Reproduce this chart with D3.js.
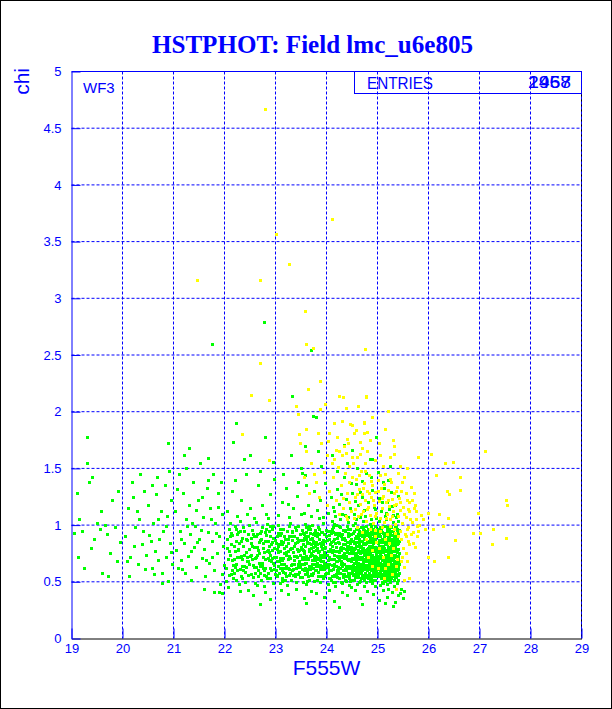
<!DOCTYPE html>
<html>
<head>
<meta charset="utf-8">
<script src="https://d3js.org/d3.v7.min.js"></script>
<style>
  body { margin:0; background:white; }
  svg { display:block; }
  .axis text { font-family: 'Liberation Sans', Arial, sans-serif; font-size: 13px; fill: #0000ff; }
  .lbl { font-family: 'Liberation Sans', Arial, sans-serif; fill: #0000ff; }
</style>
</head>
<body>
<script>
// F555W, chi pairs (flat: x, y, x, y ...)
const greenPts = [
  // x 19-22, sparse
  19.1,1.28, 19.15,1.05, 19.2,.95, 19.25,.62, 19.3,1.78, 19.3,1.55, 19.35,1.38, 19.4,1.42, 19.45,.88, 19.5,1.02,
  19.55,.97, 19.6,.58, 19.65,1.0, 19.7,.92, 19.75,.75, 19.8,1.22, 19.85,.98, 19.9,.68, 19.92,1.3, 19.95,.85,
  19.05,.93, 19.12,.72, 19.38,.8, 19.58,1.12, 19.72,.55,
  20.05,.9, 20.1,1.15, 20.15,.72, 20.2,1.25, 20.25,.98, 20.3,.66, 20.33,1.05, 20.38,.83, 20.42,1.3, 20.45,.61,
  20.5,1.18, 20.52,.91, 20.58,.62, 20.6,1.02, 20.63,.77, 20.68,1.42, 20.7,.69, 20.72,.88, 20.75,1.12, 20.78,.58,
  20.8,.95, 20.83,1.35, 20.86,.72, 20.88,1.08, 20.9,.51, 20.93,.84, 20.96,1.22, 20.98,.66, 20.12,.55, 20.22,.82,
  20.35,1.45, 20.47,.74, 20.55,.86, 20.65,1.27, 20.77,.49, 20.85,.99, 20.92,1.48, 20.28,1.12, 20.4,.95, 20.62,.57,
  20.18,1.38, 20.7,1.05, 20.95,.76, 20.08,.68, 20.58,1.35,
  21.02,1.12, 21.05,.78, 21.08,.62, 21.1,1.45, 21.12,.95, 21.15,.69, 21.18,1.28, 21.2,.84, 21.22,.58, 21.25,1.05,
  21.28,.73, 21.3,1.18, 21.32,.92, 21.35,.52, 21.38,1.38, 21.4,.81, 21.42,.99, 21.45,.63, 21.48,1.22, 21.5,.88,
  21.52,1.55, 21.55,.71, 21.58,1.07, 21.6,.79, 21.62,.55, 21.65,1.33, 21.67,.94, 21.7,.67, 21.72,1.15, 21.75,.86,
  21.77,1.45, 21.8,.6, 21.82,1.02, 21.85,.75, 21.87,1.28, 21.9,.9, 21.92,.48, 21.95,1.1, 21.97,.82, 21.99,.65,
  21.06,1.32, 21.14,.88, 21.24,1.5, 21.34,.77, 21.44,1.13, 21.54,.96, 21.64,.69, 21.74,1.05, 21.84,.93, 21.94,1.38,
  21.16,.61, 21.36,1.02, 21.56,1.25, 21.76,.72, 21.96,.57, 21.27,.99, 21.47,.85, 21.68,1.4, 21.88,1.16, 21.79,.41,
  21.59,.44, 21.2,1.62, 21.95,.4, 21.9,.41,
  // x 22-23
  22.02,.62, 22.05,.88, 22.03,.51, 22.08,.97, 22.1,.74, 22.07,.45, 22.12,.83, 22.15,.69, 22.11,1.02, 22.18,.58,
  22.14,.91, 22.2,.77, 22.17,.53, 22.23,.66, 22.21,.99, 22.25,.72, 22.22,.86, 22.28,.48, 22.26,.94, 22.3,.61,
  22.27,.79, 22.33,.55, 22.31,1.04, 22.35,.7, 22.34,.89, 22.38,.64, 22.36,.82, 22.4,.5, 22.39,.95, 22.42,.76,
  22.41,.59, 22.45,.87, 22.44,.68, 22.47,.43, 22.46,.92, 22.5,.73, 22.49,1.0, 22.52,.57, 22.51,.84, 22.55,.65,
  22.53,.96, 22.57,.81, 22.56,.54, 22.6,.71, 22.58,.9, 22.62,.63, 22.61,1.03, 22.65,.78, 22.63,.47, 22.67,.85,
  22.66,.6, 22.7,.93, 22.68,.75, 22.72,.52, 22.71,.88, 22.74,.67, 22.73,.98, 22.77,.56, 22.76,.8, 22.79,.7,
  22.78,.46, 22.82,.91, 22.8,.62, 22.84,.77, 22.83,1.01, 22.86,.58, 22.85,.86, 22.88,.69, 22.87,.95, 22.9,.53,
  22.89,.74, 22.92,.83, 22.91,.6, 22.94,.97, 22.93,.71, 22.96,.49, 22.95,.89, 22.98,.65, 22.97,.8, 22.99,.57,
  22.04,.8, 22.09,.56, 22.13,.93, 22.19,.7, 22.24,.6, 22.29,.84, 22.32,.73, 22.37,.98, 22.43,.63, 22.48,.79,
  22.54,.7, 22.59,.49, 22.64,.92, 22.69,.64, 22.75,.84, 22.81,.55, 22.86,.78, 22.9,.99, 22.95,.67, 22.99,.87,
  22.16,.65, 22.34,.53, 22.52,.89, 22.7,.58, 22.88,.82, 22.22,.97, 22.46,.68, 22.64,.74, 22.8,.94, 22.97,.61,
  22.06,.7, 22.1,.9, 22.14,.6, 22.18,.82, 22.22,.52, 22.26,.78, 22.3,.95, 22.34,.64, 22.38,.74, 22.42,.88,
  22.46,.56, 22.08,.77, 22.2,.63, 22.32,.86, 22.44,.72, 22.12,.57, 22.24,.92, 22.36,.6, 22.48,.66, 22.28,.72,
  // x 23-24
  23.01,.72, 23.03,.55, 23.02,.9, 23.05,.64, 23.06,.83, 23.04,1.0, 23.08,.49, 23.09,.77, 23.07,.68, 23.11,.93,
  23.12,.6, 23.1,.86, 23.14,.71, 23.13,.53, 23.15,.97, 23.17,.66, 23.16,.8, 23.19,.58, 23.18,.88, 23.2,.74,
  23.22,.95, 23.21,.62, 23.24,.84, 23.23,.47, 23.25,.7, 23.27,.9, 23.26,.56, 23.29,.79, 23.28,1.02, 23.3,.65,
  23.32,.87, 23.31,.52, 23.34,.76, 23.33,.94, 23.35,.61, 23.37,.82, 23.36,.69, 23.39,.98, 23.38,.57, 23.4,.73,
  23.42,.89, 23.41,.5, 23.44,.66, 23.43,.85, 23.45,.99, 23.47,.59, 23.46,.78, 23.49,.92, 23.48,.63, 23.5,.81,
  23.52,.54, 23.51,.96, 23.54,.72, 23.53,.87, 23.55,.6, 23.57,1.01, 23.56,.75, 23.59,.48, 23.58,.9, 23.6,.67,
  23.62,.84, 23.61,.58, 23.64,.97, 23.63,.71, 23.65,.52, 23.67,.88, 23.66,.64, 23.69,.8, 23.68,.93, 23.7,.56,
  23.72,.74, 23.71,1.0, 23.74,.62, 23.73,.86, 23.75,.69, 23.77,.95, 23.76,.51, 23.79,.78, 23.78,.91, 23.8,.6,
  23.82,.83, 23.81,.7, 23.84,.98, 23.83,.55, 23.85,.88, 23.87,.65, 23.86,.77, 23.89,.94, 23.88,.5, 23.9,.72,
  23.92,.85, 23.91,.61, 23.94,1.02, 23.93,.68, 23.95,.8, 23.97,.57, 23.96,.92, 23.99,.74, 23.98,.63, 23.0,.84,
  23.03,.79, 23.06,.58, 23.09,.97, 23.12,.69, 23.15,.85, 23.18,.52, 23.21,.76, 23.24,.62, 23.27,.99, 23.3,.8,
  23.33,.66, 23.36,.9, 23.39,.55, 23.42,.72, 23.45,.63, 23.48,.87, 23.51,.7, 23.54,.5, 23.57,.82, 23.6,.94,
  23.63,.61, 23.66,.77, 23.69,.57, 23.72,.89, 23.75,.66, 23.78,.73, 23.81,.93, 23.84,.59, 23.87,.84, 23.9,.68,
  23.93,.53, 23.96,.76, 23.99,.9, 23.02,.68, 23.08,.91, 23.14,.59, 23.2,.82, 23.26,.73, 23.32,.6, 23.38,.84,
  23.44,.77, 23.5,.66, 23.56,.89, 23.62,.7, 23.68,.62, 23.74,.81, 23.8,.72, 23.86,.97, 23.92,.64, 23.98,.81,
  23.51,.61, 23.53,.78, 23.55,.92, 23.58,.67, 23.61,.85, 23.64,.55, 23.67,.73, 23.7,.88, 23.73,.58, 23.76,.84,
  23.79,.64, 23.82,.9, 23.85,.71, 23.88,.61, 23.91,.79, 23.94,.87, 23.97,.66, 23.52,.71, 23.59,.98, 23.65,.79,
  23.71,.66, 23.77,.6, 23.83,.76, 23.89,.82, 23.95,.55, 23.99,.96, 23.57,.57, 23.63,.9, 23.69,.75, 23.75,.93,
  23.81,.52, 23.87,.74, 23.93,.87, 23.96,.61, 23.54,.83, 23.6,.73, 23.66,.99, 23.72,.69, 23.78,.82, 23.84,.65,
  22.52,.74, 22.56,.92, 22.6,.58, 22.64,.81, 22.68,.67, 22.72,.95, 22.76,.62, 22.8,.86, 22.84,.53, 22.88,.76,
  22.92,.68, 22.96,.99, 23.0,.6, 23.04,.82, 23.08,.71, 23.12,.51, 23.16,.9, 23.2,.64, 23.24,.77, 23.28,.58,
  23.32,.95, 23.36,.73, 23.4,.62, 23.44,.86, 23.48,.54, 23.52,.79, 23.56,.66, 23.6,.88, 23.64,.7, 23.68,.97,
  23.72,.56, 23.76,.72, 23.8,.85, 23.84,.77, 23.88,.69, 23.92,.94, 23.96,.67, 23.99,.58, 23.97,.86, 23.93,.74,
  23.89,.55, 23.85,.64, 23.81,.8, 23.77,.69, 23.73,.92, 23.69,.64, 23.65,.84, 23.61,.51, 23.57,.7, 23.53,.93,
  23.49,.74, 23.45,.57, 23.41,.96, 23.37,.66, 23.33,.8, 23.29,.71, 23.25,.88, 23.21,.55, 23.17,.75, 23.13,.83,
  23.09,.62, 23.05,.93, 23.01,.56, 22.97,.72, 22.93,.85, 22.89,.62, 22.85,.71, 22.81,.97, 22.77,.76, 22.73,.64,
  22.69,.87, 22.65,.55, 22.61,.72, 22.57,.63, 22.53,.82, 22.62,.9, 22.78,.6, 22.94,.78, 23.1,.66, 23.26,.61,
  23.42,.79, 23.58,.62, 23.74,.77, 23.9,.63, 23.55,.77, 23.7,.83, 23.85,.92, 23.95,.72, 23.62,.6, 23.78,.96,
  23.3,.9, 23.15,.62, 23.47,.68, 23.82,.67, 23.67,.61, 23.94,.83, 23.35,.56, 23.05,.76, 22.9,.9, 22.75,.72,
  // x 24-25.4, dense core
  24.01,.74, 24.02,.58, 24.04,.91, 24.05,.66, 24.07,.83, 24.08,.52, 24.1,.97, 24.11,.7, 24.13,.61, 24.14,.88,
  24.16,.77, 24.17,.55, 24.19,1.0, 24.2,.68, 24.22,.85, 24.23,.6, 24.25,.93, 24.26,.73, 24.28,.5, 24.29,.81,
  24.31,.64, 24.32,.96, 24.34,.71, 24.35,.57, 24.37,.87, 24.38,.79, 24.4,.62, 24.41,.99, 24.43,.69, 24.44,.53,
  24.46,.84, 24.47,.75, 24.49,.92, 24.5,.59, 24.52,.8, 24.53,.67, 24.55,1.02, 24.56,.72, 24.58,.56, 24.59,.89,
  24.61,.63, 24.62,.78, 24.64,.95, 24.65,.51, 24.67,.7, 24.68,.86, 24.7,.6, 24.71,.98, 24.73,.74, 24.74,.65,
  24.76,.83, 24.77,.54, 24.79,.91, 24.8,.68, 24.82,.77, 24.83,.58, 24.85,1.01, 24.86,.72, 24.88,.63, 24.89,.87,
  24.91,.52, 24.92,.8, 24.94,.94, 24.95,.66, 24.97,.76, 24.98,.57, 25.0,.9, 25.01,.69, 25.03,.82, 25.04,.61,
  25.06,.97, 25.07,.73, 25.09,.55, 25.1,.85, 25.12,.64, 25.13,.79, 25.15,.99, 25.16,.59, 25.18,.71, 25.19,.88,
  25.21,.53, 25.22,.76, 25.24,.93, 25.25,.67, 25.27,.82, 25.28,.6, 25.3,1.03, 25.31,.7, 25.33,.56, 25.34,.86,
  25.36,.65, 25.37,.78, 25.39,.95, 25.4,.62, 25.38,.5, 25.35,.74, 25.32,.9, 25.29,.55, 25.26,.8, 25.23,.69,
  24.0,.87, 24.03,.69, 24.06,.79, 24.09,.6, 24.12,.94, 24.15,.64, 24.18,.81, 24.21,.54, 24.24,.76, 24.27,.98,
  24.3,.67, 24.33,.83, 24.36,.52, 24.39,.73, 24.42,.9, 24.45,.62, 24.48,.78, 24.51,1.0, 24.54,.57, 24.57,.85,
  24.6,.71, 24.63,.6, 24.66,.92, 24.69,.76, 24.72,.55, 24.75,.88, 24.78,.64, 24.81,.97, 24.84,.7, 24.87,.53,
  24.9,.82, 24.93,.61, 24.96,.89, 24.99,.73, 25.02,.58, 25.05,.78, 25.08,.94, 25.11,.66, 25.14,.51, 25.17,.83,
  25.2,.63, 25.23,.96, 25.26,.72, 25.29,.86, 25.32,.6, 25.35,.81, 25.38,.68, 25.41,.92, 25.39,.57, 25.36,.99,
  24.02,.63, 24.07,.95, 24.13,.78, 24.19,.57, 24.25,.84, 24.31,.72, 24.37,.61, 24.43,.93, 24.49,.68, 24.55,.8,
  24.61,.54, 24.67,.98, 24.73,.61, 24.79,.75, 24.85,.88, 24.91,.66, 24.97,.59, 25.03,.95, 25.09,.7, 25.15,.84,
  25.21,.62, 25.27,.74, 25.33,.97, 25.4,.79, 25.24,.52, 25.12,.9, 25.0,.77, 24.88,.99, 24.76,.7, 24.64,.83,
  24.52,.64, 24.4,.85, 24.28,.66, 24.16,.92, 24.04,.53, 24.1,.82, 24.22,.72, 24.34,.89, 24.46,.58, 24.58,.75,
  24.7,.66, 24.82,.92, 24.94,.55, 25.06,.65, 25.18,.96, 25.3,.77, 25.42,.58, 25.37,.86, 25.25,.59, 25.13,.72,
  24.5,.71, 24.52,.93, 24.54,.62, 24.56,.84, 24.58,.68, 24.6,.97, 24.62,.56, 24.64,.76, 24.66,.63, 24.68,.91,
  24.7,.79, 24.72,.67, 24.74,.88, 24.76,.58, 24.78,.99, 24.8,.73, 24.82,.61, 24.84,.82, 24.86,.66, 24.88,.77,
  24.9,.94, 24.92,.59, 24.94,.71, 24.96,.86, 24.98,.64, 25.0,.55, 25.02,.87, 25.04,.75, 25.06,.6, 25.08,.81,
  25.1,.69, 25.12,.99, 25.14,.63, 25.16,.78, 25.18,.56, 25.2,.9, 25.22,.67, 25.24,.81, 25.26,.98, 25.28,.71,
  25.3,.62, 25.32,.83, 25.34,.54, 25.36,.72, 25.38,.88, 25.4,.68, 25.41,.52, 25.42,.96, 25.39,.76, 25.37,.61,
  24.51,.86, 24.55,.54, 24.59,.73, 24.63,.88, 24.67,.6, 24.71,.84, 24.75,.95, 24.79,.62, 24.83,.9, 24.87,.6,
  24.91,.77, 24.95,.99, 24.99,.63, 25.03,.72, 25.07,.86, 25.11,.57, 25.15,.74, 25.19,.64, 25.23,.86, 25.27,.53,
  25.31,.88, 25.35,.64, 25.34,.77, 25.3,.95, 25.26,.65, 25.22,.58, 25.18,.83, 25.14,.93, 25.1,.76, 25.06,.53,
  25.02,.67, 24.98,.8, 24.94,.64, 24.9,.56, 24.86,.93, 24.82,.69, 24.78,.84, 24.74,.52, 24.7,.9, 24.66,.75,
  24.62,.67, 24.58,.97, 24.54,.79, 24.5,.6, 24.53,.7, 24.57,.63, 24.61,.89, 24.65,.72, 24.69,.55, 24.73,.96,
  24.77,.65, 24.81,.8, 24.85,.67, 24.89,.72, 24.93,.87, 24.97,.7, 25.01,.61, 25.05,.9, 25.09,.79, 25.13,.6,
  25.17,.7, 25.21,.94, 25.25,.77, 25.29,.66, 25.33,.73, 25.37,.93, 25.41,.71, 25.4,.84, 25.36,.56, 25.32,.68,
  24.05,.72, 24.09,.85, 24.14,.66, 24.18,.93, 24.23,.77, 24.27,.62, 24.32,.8, 24.36,.95, 24.41,.7, 24.45,.55,
  24.2,.58, 24.24,.69, 24.29,.9, 24.33,.6, 24.38,.72, 24.42,.82, 24.47,.64, 24.11,.76, 24.06,.6, 24.15,1.01,
  24.8,.86, 24.84,.57, 24.88,.81, 24.92,.68, 24.96,.78, 25.0,.96, 25.04,.67, 25.08,.57, 25.12,.8, 25.16,.91,
  25.2,.75, 25.24,.61, 25.28,.84, 25.32,.72, 25.36,.9, 25.38,.6, 25.34,.99, 25.3,.58, 25.26,.88, 25.22,.7,
  24.71,.69, 24.75,.78, 24.79,.56, 24.83,.74, 24.87,.96, 24.91,.84, 24.95,.6, 24.99,.85, 25.03,.63, 25.07,.76,
  25.11,.88, 25.15,.55, 25.19,.98, 25.23,.66, 25.27,.91, 25.31,.79, 25.35,.62, 25.39,.83, 25.41,.65, 25.42,.75,
  24.55,.67, 24.6,.82, 24.64,.7, 24.68,.58, 24.72,.8, 24.76,.93, 24.8,.6, 24.84,.77, 24.88,.69, 24.92,.97,
  24.96,.57, 25.0,.73, 25.04,.85, 25.08,.64, 25.12,.68, 25.16,.86, 25.2,.55, 25.24,.73, 25.28,.59, 25.32,.92,
  24.03,.48, 24.17,.46, 24.31,.49, 24.45,.47, 24.6,.48, 24.74,.46, 24.9,.49, 25.05,.47, 25.19,.48, 25.33,.46,
  24.1,1.04, 24.26,1.05, 24.42,1.03, 24.57,1.05, 24.72,1.04, 24.87,1.05, 25.02,1.04, 25.17,1.05, 25.31,1.03, 25.4,1.04,
  24.12,.5, 24.38,.51, 24.63,.5, 24.86,.51, 25.11,.49, 25.25,.5, 25.38,.49, 24.48,.45, 24.95,.46, 25.2,.44,
  24.02,.77, 24.04,.6, 24.06,.95, 24.08,.7, 24.1,.55, 24.12,.86, 24.14,.74, 24.16,.5, 24.18,.68, 24.2,.89,
  24.22,.63, 24.24,.99, 24.26,.58, 24.28,.78, 24.3,.92, 24.32,.54, 24.34,.66, 24.36,.83, 24.38,.6, 24.4,.76,
  24.42,.97, 24.44,.64, 24.46,.51, 24.48,.88, 24.5,.8, 24.52,.56, 24.54,.95, 24.56,.6, 24.58,.82, 24.6,.63,
  24.62,.92, 24.64,.58, 24.66,.81, 24.68,.64, 24.7,.86, 24.72,.97, 24.74,.56, 24.76,.76, 24.78,.5, 24.8,.95,
  24.82,.53, 24.84,.64, 24.86,.85, 24.88,.55, 24.9,.74, 24.92,.89, 24.94,.78, 24.96,.52, 24.98,.93, 25.0,.66,
  25.02,.76, 25.04,.98, 25.06,.71, 25.08,.5, 25.1,.62, 25.12,.77, 25.14,.85, 25.16,.68, 25.18,.92, 25.2,.59,
  25.22,.89, 25.24,.55, 25.26,.63, 25.28,.95, 25.3,.74, 25.32,.52, 25.34,.64, 25.36,.84, 25.38,.97, 25.4,.56,
  25.42,.86, 25.41,.61, 25.39,.7, 25.37,.54, 25.35,.92, 25.33,.66, 25.31,.59, 25.29,.77, 25.27,.69, 25.25,.86,
  25.23,.79, 25.21,.7, 25.19,.52, 25.17,.62, 25.15,.93, 25.13,.52, 25.11,.82, 25.09,.88, 25.07,.62, 25.05,.55,
  25.03,.86, 25.01,.78, 24.99,.55, 24.97,.65, 24.95,.81, 24.93,.72, 24.91,.95, 24.89,.6, 24.87,.8, 24.85,.73,
  24.83,.66, 24.81,.55, 24.79,.86, 24.77,.73, 24.75,.62, 24.73,.83, 24.71,.54, 24.69,.93, 24.67,.82, 24.65,.66,
  24.63,.77, 24.61,.97, 24.59,.6, 24.57,.74, 24.55,.89, 24.53,.52, 24.51,.65, 24.49,.81, 24.47,.97, 24.45,.7,
  24.43,.58, 24.41,.82, 24.39,.64, 24.37,.96, 24.35,.75, 24.33,.57, 24.31,.88, 24.29,.68, 24.27,.8, 24.25,.53,
  24.23,.91, 24.21,.73, 24.19,.64, 24.17,.84, 24.15,.56, 24.13,.98, 24.11,.65, 24.09,.77, 24.07,.53, 24.05,.88,
  24.03,.66, 24.01,.95, 24.15,.7, 24.27,.72, 24.39,.55, 24.51,.75, 24.63,.94, 24.75,.68, 24.87,.64, 24.99,.97,
  25.11,.6, 25.23,.62, 25.35,.79, 25.05,.82, 24.93,.58, 24.81,.71, 24.69,.62, 24.57,.9, 24.45,.79, 24.33,.74,
  24.21,.6, 24.09,.93, 24.97,.68, 25.15,.66, 25.3,.86, 25.19,.74, 24.86,.76, 24.74,.9, 24.62,.71, 24.5,.52,
  24.6,.64, 24.7,.72, 24.8,.79, 24.9,.66, 25.0,.84, 25.1,.93, 25.2,.81, 25.3,.69, 25.4,.73, 25.33,.82,
  24.65,.86, 24.75,.57, 24.85,.9, 24.95,.69, 25.05,.61, 25.15,.77, 25.25,.68, 25.35,.58, 24.55,.73, 24.45,.91,
  24.58,.58, 24.68,.76, 24.78,.7, 24.88,.92, 24.98,.74, 25.08,.69, 25.18,.6, 25.28,.8, 25.38,.91, 24.48,.63,
  24.52,.77, 24.62,.85, 24.72,.63, 24.82,.85, 24.92,.62, 25.02,.92, 25.12,.58, 25.22,.97, 25.32,.63, 25.42,.66,
  24.57,.69, 24.67,.53, 24.77,.95, 24.87,.68, 24.97,.77, 25.07,.96, 25.17,.54, 25.27,.76, 25.37,.66, 24.47,.86,
  24.54,.84, 24.64,.91, 24.74,.74, 24.84,.61, 24.94,.91, 25.04,.59, 25.14,.71, 25.24,.92, 25.34,.88, 24.44,.75,
  // above the core, chi 1.05-1.7
  22.05,1.12, 22.15,1.3, 22.25,1.08, 22.33,1.22, 22.42,1.45, 22.5,1.15, 22.58,1.06, 22.66,1.35, 22.74,1.18, 22.82,1.1,
  22.9,1.27, 22.97,1.41, 23.05,1.09, 23.12,1.2, 23.2,1.33, 23.27,1.07, 23.35,1.15, 23.42,1.26, 23.5,1.1, 23.57,1.44,
  23.63,1.18, 23.7,1.08, 23.76,1.3, 23.82,1.13, 23.88,1.22, 23.94,1.07, 23.98,1.37, 24.03,1.11, 24.08,1.25, 24.12,1.16,
  24.17,1.08, 24.21,1.32, 24.25,1.19, 24.3,1.1, 24.34,1.42, 24.38,1.23, 24.42,1.07, 24.46,1.15, 24.5,1.28, 24.54,1.1,
  24.58,1.36, 24.62,1.18, 24.66,1.07, 24.7,1.25, 24.74,1.13, 24.78,1.46, 24.82,1.2, 24.86,1.09, 24.9,1.31, 24.94,1.16,
  24.98,1.06, 25.02,1.24, 25.06,1.12, 25.1,1.38, 25.14,1.08, 25.18,1.2, 25.22,1.14, 25.26,1.29, 25.3,1.09, 25.34,1.18,
  25.38,1.1, 25.41,1.26, 24.6,1.5, 24.4,1.55, 24.85,1.58, 25.0,1.47, 25.2,1.4, 24.2,1.48, 23.9,1.52, 23.6,1.35,
  22.2,1.4, 22.38,1.58, 22.7,1.48, 22.95,1.56, 23.15,1.45, 23.3,1.62, 23.45,1.38, 24.1,1.62, 24.5,1.66, 24.7,1.39,
  24.15,1.12, 24.36,1.09, 24.56,1.21, 24.76,1.08, 24.96,1.14, 25.16,1.11, 25.36,1.07, 24.65,1.29, 24.88,1.42, 25.08,1.2,
  25.28,1.17, 24.28,1.27, 23.85,1.06, 23.55,1.11, 23.25,1.19, 22.85,1.06, 22.45,1.1, 25.12,1.33, 24.48,1.37, 25.25,1.52,
  // high chi
  21.67,1.59, 22.16,1.73, 22.23,1.9, 22.8,1.78, 23.33,2.14, 23.58,1.7, 23.73,1.96, 23.79,1.95, 23.84,1.65, 24.35,1.71,
  22.77,2.79, 21.76,2.6, 23.7,2.54, 24.89,1.58, 23.5,1.5, 23.52,1.46, 24.98,1.78, 22.5,1.62, 21.3,1.68, 20.9,1.72,
  // below chi 0.45
  22.3,.42, 22.55,.38, 22.8,.41, 22.9,.35, 23.1,.43, 23.25,.39, 23.4,.44, 23.55,.36, 23.7,.42, 23.8,.4,
  23.95,.37, 24.05,.43, 24.15,.33, 24.3,.41, 24.4,.38, 24.55,.43, 24.65,.36, 24.8,.42, 24.92,.39, 25.02,.34,
  25.1,.43, 25.18,.37, 25.28,.41, 25.35,.32, 25.44,.4, 25.5,.36, 25.47,.44, 25.3,.29, 24.7,.3, 24.25,.28,
  23.6,.31, 22.7,.3, 25.52,.42, 25.4,.38, 25.15,.31
];

const yellowPts = [
  // outliers
  22.8,4.67, 23.0,3.57, 23.27,3.3, 21.47,3.16, 22.7,3.16, 23.57,2.89, 24.1,3.7, 23.6,2.6, 23.74,2.56, 22.7,2.43,
  24.75,2.55, 23.88,2.27, 22.52,2.15, 23.64,2.2, 22.87,2.1, 23.97,2.07, 24.24,2.14, 24.32,2.13, 24.77,2.14, 23.4,2.05,
  23.88,2.02, 24.38,2.03, 25.2,2.01, 23.44,1.98, 24.47,1.89, 24.5,1.88, 24.73,1.9, 22.35,1.8, 23.47,1.8, 23.6,1.85,
  23.84,1.81, 24.05,1.81, 24.2,1.78, 24.4,1.76, 24.53,1.81, 23.48,1.72, 24.02,1.74, 24.65,1.73, 25.02,1.72, 25.33,1.7,
  24.19,1.66, 24.39,1.64, 24.66,1.63, 23.6,1.65, 22.88,1.57, 24.78,2.13, 25.21,2.01, 24.74,1.91, 24.74,1.81, 24.79,1.82,
  25.33,1.63, 25.8,1.6, 26.05,1.63, 26.33,1.55, 26.48,1.56, 27.1,1.65, 25.58,1.5, 26.15,1.44, 26.62,1.42, 26.37,1.3,
  26.41,1.27, 26.62,1.31, 27.52,1.22, 27.53,1.18, 25.71,1.28, 25.61,1.2, 25.74,1.18, 25.85,1.09, 26.0,1.11, 26.2,1.1,
  26.39,1.06, 26.98,1.11, 25.78,.99, 25.93,.97, 26.08,.97, 26.28,.99, 27.26,.97, 27.0,.93, 26.87,.93, 27.52,.89,
  27.24,.83, 26.52,.87, 25.74,.81, 25.69,.84, 26.0,.72, 26.11,.68, 26.39,.72, 25.62,.53, 25.51,.52, 25.37,.44,
  // main cloud
  24.05,1.3, 24.12,1.42, 24.18,1.22, 24.22,1.51, 24.28,1.35, 24.33,1.15, 24.37,1.46, 24.41,1.28, 24.45,1.38, 24.48,1.12,
  24.52,1.55, 24.55,1.25, 24.58,1.41, 24.61,1.08, 24.63,1.32, 24.66,1.19, 24.68,1.48, 24.7,1.27, 24.72,1.12, 24.74,1.37,
  24.76,1.22, 24.78,1.04, 24.8,1.3, 24.82,1.16, 24.84,1.44, 24.86,1.09, 24.88,1.25, 24.9,1.35, 24.92,1.02, 24.94,1.18,
  24.96,1.29, 24.98,1.11, 25.0,1.4, 25.02,1.21, 25.04,1.06, 25.06,1.33, 25.08,1.15, 25.1,1.26, 25.12,1.03, 25.14,1.45,
  25.16,1.2, 25.18,1.1, 25.2,1.31, 25.22,1.17, 25.24,1.05, 25.26,1.38, 25.28,1.23, 25.3,1.12, 25.32,1.28, 25.34,1.01,
  25.36,1.19, 25.38,1.34, 25.4,1.08, 25.42,1.24, 25.44,1.13, 25.46,1.3, 25.48,1.02, 25.5,1.16, 25.52,1.42, 25.55,1.07,
  25.58,1.22, 25.6,.98, 25.62,1.12, 25.65,1.34, 25.67,1.03, 25.7,.94, 25.72,1.15, 25.75,1.05, 25.78,.9, 25.82,1.0,
  25.44,.95, 25.47,.88, 25.5,.8, 25.53,.92, 25.56,.75, 25.59,.86, 25.46,.68, 25.52,.63, 25.49,.72, 25.57,.97,
  24.85,.97, 24.95,.9, 25.05,.95, 25.15,.88, 25.25,.99, 25.35,.93, 24.9,.78, 25.1,.72, 25.3,.8, 25.0,.62,
  25.2,.66, 25.38,.7, 24.7,.94, 24.6,.98, 25.28,.57, 25.12,.53, 24.97,.85, 25.33,.97, 25.4,.9, 25.22,.84,
  24.15,1.58, 24.3,1.62, 24.45,1.52, 24.6,1.6, 24.75,1.55, 24.95,1.57, 25.1,1.52, 25.25,1.6, 25.45,1.52, 24.35,1.7,
  23.95,1.47, 23.8,1.38, 23.7,1.55, 23.55,1.42, 23.85,1.25, 24.0,1.18, 23.65,1.28, 24.25,1.1, 24.4,1.05, 24.55,1.14,
  24.32,1.24, 24.38,1.08, 24.44,1.2, 24.5,1.42, 24.54,1.06, 24.6,1.27, 24.64,1.44, 24.68,1.1, 24.72,1.33, 24.76,1.48,
  24.8,1.14, 24.84,1.28, 24.88,1.39, 24.92,1.22, 24.96,1.08, 25.0,1.3, 25.04,1.44, 25.08,1.24, 25.12,1.36, 25.16,1.06,
  25.2,1.22, 25.24,1.41, 25.28,1.08, 25.32,1.18, 25.36,1.3, 25.4,1.46, 25.44,1.2, 25.48,1.38, 25.52,1.1, 25.56,1.28,
  25.6,1.14, 25.64,1.05, 25.68,1.22, 25.76,1.12, 25.8,.95, 25.9,1.05, 25.55,.9, 25.62,.83, 25.66,.92, 25.58,.68,
  24.25,1.65, 24.42,1.72, 24.58,1.84, 24.7,1.68, 24.85,1.75, 25.05,1.62, 25.15,1.85, 24.3,1.92, 24.62,2.05, 24.9,1.95,
  24.15,1.9, 24.0,1.62, 23.9,1.72, 24.5,1.6, 24.8,1.65, 25.3,1.75, 23.75,1.45, 24.1,1.55,
  24.78,.88, 24.9,.64, 25.02,.8, 25.14,.62, 25.26,.74, 25.36,.64, 25.08,.98, 24.82,.72, 25.18,.92, 24.96,.96
];

const xTickLabels = [19, 20, 21, 22, 23, 24, 25, 26, 27, 28, 29];
const yTickLabels = [0, 0.5, 1, 1.5, 2, 2.5, 3, 3.5, 4, 4.5, 5];
const entryCounts = ['1968', '2457'];

const toPairs = arr => d3.range(0, arr.length, 2).map(i => [arr[i], arr[i + 1]]);
const green = toPairs(greenPts);
const yellow = toPairs(yellowPts);

const W = 612, H = 709;
const blue = '#0000ff';

const svg = d3.select('body').append('svg')
  .attr('width', W).attr('height', H);

svg.append('rect').attr('width', W).attr('height', H).attr('fill', 'white');
// outer frame
svg.append('rect')
  .attr('x', 0.5).attr('y', 0.5).attr('width', W - 1).attr('height', H - 1)
  .attr('fill', 'none').attr('stroke', 'black');

const x = d3.scaleLinear().domain([19, 29]).range([71.5, 581.5]);
const y = d3.scaleLinear().domain([0, 5]).range([638.5, 71.5]);

// grid
const grid = svg.append('g').attr('stroke', blue).attr('stroke-dasharray', '3,2');
grid.selectAll('.gx').data(xTickLabels.slice(1, -1)).enter().append('line')
  .attr('x1', d => x(d)).attr('x2', d => x(d))
  .attr('y1', y(5)).attr('y2', y(0));
grid.selectAll('.gy').data(yTickLabels.slice(1, -1)).enter().append('line')
  .attr('x1', x(19)).attr('x2', x(29))
  .attr('y1', d => y(d)).attr('y2', d => y(d));

// points, 3px squares
const pts = svg.append('g').attr('shape-rendering', 'crispEdges');
pts.selectAll('.g').data(green).enter().append('rect')
  .attr('x', d => Math.round(x(d[0])) - 1).attr('y', d => Math.round(y(d[1])) - 1)
  .attr('width', 3).attr('height', 3).attr('fill', '#00ff00');
pts.selectAll('.yl').data(yellow).enter().append('rect')
  .attr('x', d => Math.round(x(d[0])) - 1).attr('y', d => Math.round(y(d[1])) - 1)
  .attr('width', 3).attr('height', 3).attr('fill', '#ffff00');

// frame: top blue, right black with blue dashes
svg.append('line').attr('x1', x(19)).attr('x2', x(29)).attr('y1', y(5)).attr('y2', y(5)).attr('stroke', blue);
svg.append('line').attr('x1', x(29)).attr('x2', x(29)).attr('y1', y(5)).attr('y2', y(0)).attr('stroke', 'black');
svg.append('line').attr('x1', x(29)).attr('x2', x(29)).attr('y1', y(5)).attr('y2', y(0))
  .attr('stroke', blue).attr('stroke-dasharray', '3,2');

// x axis
const xAxis = svg.append('g').attr('class', 'axis').attr('transform', `translate(0,${y(0)})`);
xAxis.call(d3.axisBottom(x).tickValues(d3.range(19, 29.01, 0.2)).tickSize(-5).tickSizeOuter(0).tickFormat(''));
xAxis.call(d3.axisBottom(x).tickValues(xTickLabels).tickSize(-10).tickSizeOuter(0).tickPadding(5).tickFormat(d => d));
xAxis.selectAll('line').attr('stroke', blue);
xAxis.select('.domain').attr('stroke', 'black');

// y axis
const yAxis = svg.append('g').attr('class', 'axis').attr('transform', `translate(${x(19)},0)`);
yAxis.call(d3.axisLeft(y).tickValues(d3.range(0, 5.01, 0.1)).tickSize(-4).tickSizeOuter(0).tickFormat(''));
yAxis.call(d3.axisLeft(y).tickValues(yTickLabels).tickSize(-9).tickSizeOuter(0).tickPadding(10).tickFormat(d => String(d)));
yAxis.selectAll('line').attr('stroke', blue);
yAxis.select('.domain').attr('stroke', blue);
svg.selectAll('.axis text').attr('font-family', null).attr('font-size', null);

// stats box
svg.append('rect').attr('x', 354.5).attr('y', 71.5).attr('width', 227).attr('height', 22)
  .attr('fill', 'none').attr('stroke', blue);
svg.append('text').attr('class', 'lbl').attr('x', 367).attr('y', 89)
  .attr('font-size', 16).attr('textLength', 66).attr('lengthAdjust', 'spacingAndGlyphs')
  .text('ENTRIES');
svg.selectAll('.ent').data(entryCounts).enter().append('text').attr('class', 'lbl')
  .attr('x', 571).attr('y', 88).attr('text-anchor', 'end')
  .attr('font-size', 16).attr('textLength', 43).attr('lengthAdjust', 'spacingAndGlyphs')
  .attr('font-weight', 300)
  .text(d => d);

// labels
svg.append('text').attr('class', 'lbl').attr('x', 83).attr('y', 93).attr('font-size', 15).text('WF3');

svg.append('text')
  .attr('x', 312.5).attr('y', 53).attr('text-anchor', 'middle')
  .attr('font-family', "'Liberation Serif', 'Times New Roman', serif")
  .attr('font-weight', 'bold').attr('font-size', 26).attr('fill', blue)
  .attr('textLength', 321).attr('lengthAdjust', 'spacingAndGlyphs')
  .text('HSTPHOT: Field lmc_u6e805');

svg.append('text').attr('class', 'lbl')
  .attr('x', (x(19) + x(29)) / 2).attr('y', 675).attr('text-anchor', 'middle')
  .attr('font-size', 21).text('F555W');

svg.append('text').attr('class', 'lbl')
  .attr('transform', 'translate(29,68) rotate(-90)').attr('text-anchor', 'end')
  .attr('font-size', 21).text('chi');
</script>
</body>
</html>
